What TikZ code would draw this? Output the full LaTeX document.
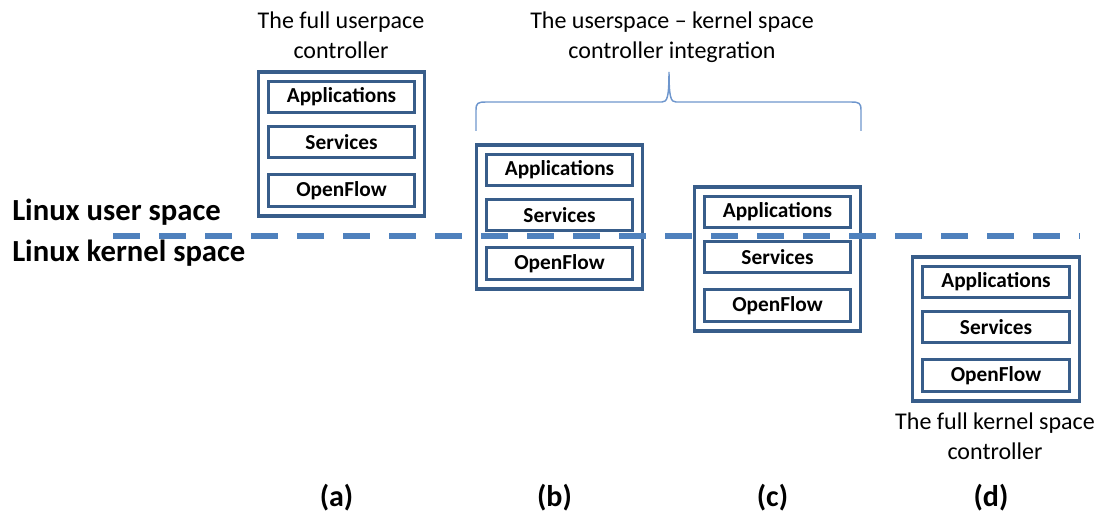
\documentclass[tikz,border=0pt]{standalone}
\usepackage{fontspec}
\setmainfont{Carlito}
\usepackage{tikz}
\usetikzlibrary{positioning}
\usepackage{xcolor}
\definecolor{boxline}{RGB}{56,93,138}
\definecolor{spaceline}{RGB}{79,129,189}
\definecolor{braceline}{RGB}{110,150,205}

\tikzset{
  ctrlbox/.style = {draw=boxline, line width=2.3pt, minimum width=125pt, minimum height=108pt, inner sep=0pt},
  layerbox/.style = {draw=boxline, line width=2.3pt, minimum width=110pt, minimum height=23.5pt, inner sep=0pt,
                     font=\fontsize{16}{18}\selectfont\bfseries},
  note/.style = {align=center, font=\fontsize{18}{22.5}\selectfont, inner sep=0pt},
  spacename/.style = {anchor=west, font=\fontsize{23}{26}\selectfont\bfseries, inner sep=0pt},
  tag/.style = {font=\fontsize{22.5}{26}\selectfont\bfseries, inner sep=0pt}
}

\begin{document}
\begin{tikzpicture}[x=0.75pt, y=-0.75pt]
  \useasboundingbox (0,0) rectangle (1101,517);

  % the four controller stacks
  \foreach \tag/\x/\y in {a/341.5/72, b/559.5/145, c/777.5/187, d/996/257} {
    \node[ctrlbox] (box\tag) at (\x,\y+72) {};
    \node[layerbox] (app\tag) at (\x,\y+25) {Applications};
    \node[layerbox] (srv\tag) at (\x,\y+70) {Services};
    \node[layerbox] (of\tag)  at (\x,\y+118.5) {OpenFlow};
    \node[tag] (lbl\tag) at (\x-5,498) {(\tag)};
  }

  % captions
  \node[note] (fulluser) at (341,35) {The full userpace\\controller};
  \node[note] (integr) at (672,37) {The userspace -- kernel space\\controller integration};
  \node[note] (fullkern) at (995,436) {The full kernel space\\controller};

  % user / kernel boundary
  \node[spacename] (usersp) at (12,212) {Linux user space};
  \node[spacename] (kernsp) at (12,253) {Linux kernel space};
  \coordinate (lineL) at (113,236);
  \coordinate (lineR) at (1080,236);
  \draw[spaceline, line width=3.8pt, dash pattern=on 20.25pt off 14.25pt] (lineL) -- (lineR);

  % brace over (b) and (c)
  \draw[braceline, line width=1.1pt]
    (476,131) -- (476,110) .. controls (476,103) and (478,102) .. (486,102)
    -- (662,102) .. controls (667,102) and (669,98) .. (669,72)
    .. controls (669,98) and (671,102) .. (676,102)
    -- (851,102) .. controls (859,102) and (861,103) .. (861,110) -- (861,131);
\end{tikzpicture}
\end{document}
